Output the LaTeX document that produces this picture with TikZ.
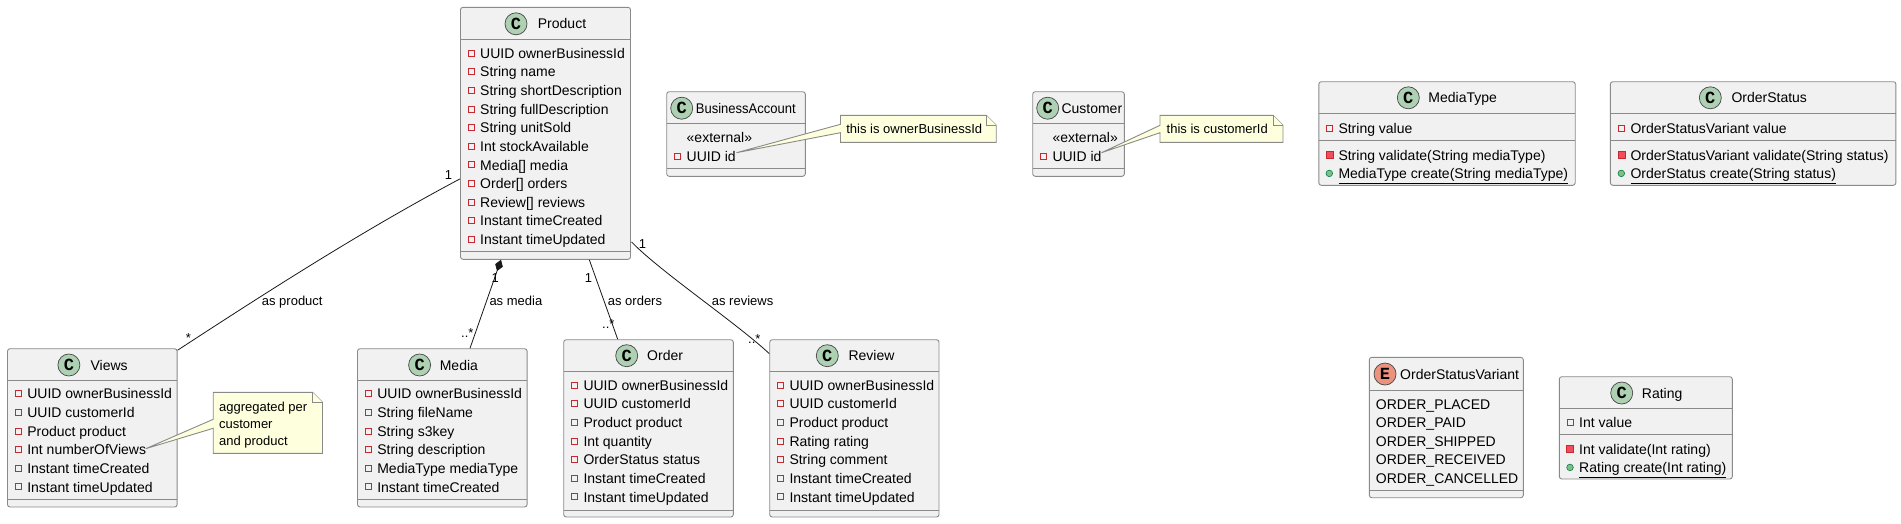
\documentclass[tikz,border=0pt]{standalone}
\usepackage{fontspec}
\setmainfont{Liberation Sans}
\newfontfamily\circfont{Liberation Mono}
\usepackage{graphicx}
\usetikzlibrary{arrows.meta,calc,fit}

\definecolor{boxfill}{HTML}{F1F1F1}
\definecolor{edgec}{HTML}{181818}
\definecolor{boxedge}{HTML}{8A8A8A}
\definecolor{cfill}{HTML}{ADD1B2}
\definecolor{efill}{HTML}{EB937F}
\definecolor{notefill}{HTML}{FEFFDD}
\definecolor{privred}{HTML}{C82930}
\definecolor{privfill}{HTML}{F24D5C}
\definecolor{pubfill}{HTML}{84BE84}
\definecolor{pubedge}{HTML}{038048}

\newcounter{rowc}
\newcommand\umlcls[7]{%
  \node[classbox, fit={(#2,#4) (#3,#7)}] (#1) {};
  \draw[sepline] (#2,#5) -- (#3,#5) (#2,#6) -- (#3,#6);}
\newcommand\umlhdr[7]{%
  \node[circ, fill=#5] (#1c) at (#2,#3) {#4};
  \node[txt] (#1t) at (#6,#3+5) {#7};}
\newcommand\fldrow[3]{\stepcounter{rowc}%
  \draw[privf] (#1-12,#2-8.3) rectangle (#1-6,#2-2.3);
  \node[txt] (r\arabic{rowc}) at (#1,#2) {#3};}
\newcommand\plainrow[3]{\stepcounter{rowc}%
  \node[txt] (r\arabic{rowc}) at (#1,#2) {#3};}
\newcommand\privmeth[3]{\stepcounter{rowc}%
  \draw[privm] (#1-12.5,#2-8.8) rectangle (#1-5.5,#2-1.8);
  \node[txt] (r\arabic{rowc}) at (#1,#2) {#3};}
\newcommand\pubmeth[3]{\stepcounter{rowc}%
  \draw[pubm] (#1-9,#2-5.3) circle (3.3pt);
  \node[txt] (r\arabic{rowc}) at (#1,#2) {\underline{#3}};}

\begin{document}
\begin{tikzpicture}[x=1pt, y=-1pt,
  classbox/.style={draw=boxedge, fill=boxfill, line width=0.9pt, rounded corners=2.5pt, inner sep=0pt},
  sepline/.style={draw=boxedge, line width=0.9pt},
  circ/.style={circle, draw=edgec!80, line width=0.7pt, minimum size=22pt, inner sep=0pt, font=\circfont\bfseries\fontsize{17}{17}\selectfont},
  txt/.style={anchor=base west, inner sep=0pt, font=\fontsize{14}{16}\selectfont},
  lab/.style={anchor=base west, inner sep=0pt, font=\fontsize{13}{15}\selectfont},
  notebox/.style={draw=boxedge, fill=notefill, line width=0.9pt},
  conn/.style={draw=edgec, line width=0.8pt},
  privf/.style={draw=privred, line width=0.6pt},
  privm/.style={draw=privred, fill=privfill, line width=0.6pt},
  pubm/.style={draw=pubedge, fill=pubfill, line width=0.6pt}]

\fill[white] (0,0) rectangle (1901,523);
\useasboundingbox (0,0) rectangle (1901,523);

% ---------- class boxes ----------
\umlcls{product}{460.5}{630.5}{7.3}{39.3}{251.7}{259.3}
\umlhdr{product}{516}{23.8}{C}{cfill}{537.7}{Product}
\foreach \t [count=\i from 0] in {UUID ownerBusinessId, String name, String shortDescription, String fullDescription, String unitSold, Int stockAvailable, Media[] media, Order[] orders, Review[] reviews, Instant timeCreated, Instant timeUpdated}
  {\fldrow{480}{58.3+18.63*\i}{\t}}

\umlcls{views}{7.5}{177.1}{348.7}{380.7}{499.3}{507}
\umlhdr{views}{68.9}{365}{C}{cfill}{90.4}{Views}
\foreach \t [count=\i from 0] in {UUID ownerBusinessId, UUID customerId, Product product, Int numberOfViews, Instant timeCreated, Instant timeUpdated}
  {\fldrow{27.1}{398.9+18.63*\i}{\t}}

\umlcls{media}{357.5}{527.1}{348.7}{380.7}{499.3}{507}
\umlhdr{media}{419.6}{365}{C}{cfill}{439.6}{Media}
\foreach \t [count=\i from 0] in {UUID ownerBusinessId, String fileName, String s3key, String description, MediaType mediaType, Instant timeCreated}
  {\fldrow{377.1}{398.9+18.63*\i}{\t}}

\umlcls{order}{563.7}{733.3}{339.7}{371.7}{510}{517}
\umlhdr{order}{626.7}{355.7}{C}{cfill}{647}{Order}
\foreach \t [count=\i from 0] in {UUID ownerBusinessId, UUID customerId, Product product, Int quantity, OrderStatus status, Instant timeCreated, Instant timeUpdated}
  {\fldrow{583.3}{390.3+18.63*\i}{\t}}

\umlcls{review}{769.7}{939}{339.7}{371.7}{510}{517}
\umlhdr{review}{827.3}{355.7}{C}{cfill}{848.3}{Review}
\foreach \t [count=\i from 0] in {UUID ownerBusinessId, UUID customerId, Product product, Rating rating, String comment, Instant timeCreated, Instant timeUpdated}
  {\fldrow{789.3}{390.3+18.63*\i}{\t}}

\umlcls{business}{666.7}{805.3}{91.7}{123.3}{168.7}{176.3}
\umlhdr{business}{681.7}{108.2}{C}{cfill}{695.7}{\scalebox{0.93}[1]{BusinessAccount}}
\plainrow{686.5}{142.3}{«external»}
\fldrow{686.5}{161.2}{UUID id}

\umlcls{customer}{1032.7}{1124.3}{91.7}{123.3}{168.7}{176.3}
\umlhdr{customer}{1047.7}{108.2}{C}{cfill}{1061.3}{Customer}
\plainrow{1052.3}{142.3}{«external»}
\fldrow{1052.3}{161.2}{UUID id}

\umlcls{mediatype}{1318.8}{1575.2}{81.7}{113.3}{140.3}{185.3}
\umlhdr{mediatype}{1408.3}{97.8}{C}{cfill}{1428.2}{MediaType}
\fldrow{1338.3}{133.3}{String value}
\privmeth{1338.3}{160}{String validate(String mediaType)}
\pubmeth{1338.3}{178.7}{MediaType create(String mediaType)}

\umlcls{orderstatus}{1610.4}{1895.9}{81.7}{113.3}{140.3}{185.3}
\umlhdr{orderstatus}{1710.3}{97.8}{C}{cfill}{1731.3}{OrderStatus}
\fldrow{1630.3}{133.3}{OrderStatusVariant value}
\privmeth{1630.3}{160}{OrderStatusVariant validate(String status)}
\pubmeth{1630.3}{178.7}{OrderStatus create(String status)}

\umlcls{variant}{1369.3}{1523.3}{357.3}{390}{490}{497.7}
\umlhdr{variant}{1385}{374}{E}{efill}{1400}{OrderStatusVariant}
\foreach \t [count=\i from 0] in {ORDER\_PLACED, ORDER\_PAID, ORDER\_SHIPPED, ORDER\_RECEIVED, ORDER\_CANCELLED}
  {\plainrow{1375.7}{409+18.63*\i}{\t}}

\umlcls{rating}{1559.3}{1732.3}{376.7}{408.7}{434.3}{479}
\umlhdr{rating}{1621.7}{393}{C}{cfill}{1641.7}{Rating}
\fldrow{1579}{427.3}{Int value}
\privmeth{1579}{454.3}{Int validate(Int rating)}
\pubmeth{1579}{472.7}{Rating create(Int rating)}

% ---------- notes ----------
\draw[notebox] (213.2,392.3) -- (312.5,392.3) -- (322.5,402.3) -- (322.5,453.3) -- (213.2,453.3)
  -- (213.2,428.3) -- (145.7,448.7) -- (213.2,419.3) -- cycle;
\draw[notebox] (312.5,392.3) -- (312.5,402.3) -- (322.5,402.3);
\node[lab] (nv1) at (218.9,411.2) {aggregated per};
\node[lab] (nv2) at (218.9,428.5) {customer};
\node[lab] (nv3) at (218.9,445.8) {and product};

\draw[notebox] (840.5,115.3) -- (986.2,115.3) -- (996.2,125.3) -- (996.2,142.3) -- (840.5,142.3)
  -- (840.5,132.7) -- (736.5,152.7) -- (840.5,124.3) -- cycle;
\draw[notebox] (986.2,115.3) -- (986.2,125.3) -- (996.2,125.3);
\node[lab] (nb) at (846.1,133.8) {this is ownerBusinessId};

\draw[notebox] (1160,115.3) -- (1273,115.3) -- (1283,125.3) -- (1283,142.3) -- (1160,142.3)
  -- (1160,132.7) -- (1101.5,152.7) -- (1160,125.3) -- cycle;
\draw[notebox] (1273,115.3) -- (1273,125.3) -- (1283,125.3);
\node[lab] (nc) at (1166.5,133.8) {this is customerId};

% ---------- connectors ----------
\draw[conn] ($(product.north west)+(0,172)$) .. controls +(-95,50.4) and +(95,-62) .. ($(views.north east)+(0,2)$);
\draw[conn, {Diamond[length=12pt,width=8pt]}-] ($(product.south)+(-44.5,0)$) -- ($(media.north)+(27.7,0)$);
\draw[conn] ($(product.south)+(43.8,0)$) -- ($(order.north)+(-30.8,0)$);
\draw[conn] ($(product.north east)+(0.5,235)$) .. controls +(28.7,29.7) and +(-34.7,-32) .. ($(review.north west)+(0,14.3)$);

% ---------- connector labels ----------
\node[lab] (m1) at (444.7,179.4) {1};
\node[lab] (l1) at (261.7,305.3) {as product};
\node[lab] (s1) at (185.7,342) {*};

\node[lab] (m2) at (491.4,282) {1};
\node[lab] (l2) at (489.3,305.3) {as media};
\node[lab] (s2) at (461,337) {..*};

\node[lab] (m3) at (584.7,282.3) {1};
\node[lab] (l3) at (607.7,305.3) {as orders};
\node[lab] (s3) at (602,328.5) {..*};

\node[lab] (m4) at (638.7,248) {1};
\node[lab] (l4) at (711.7,305.3) {as reviews};
\node[lab] (s4) at (748,343.5) {..*};

\end{tikzpicture}
\end{document}
